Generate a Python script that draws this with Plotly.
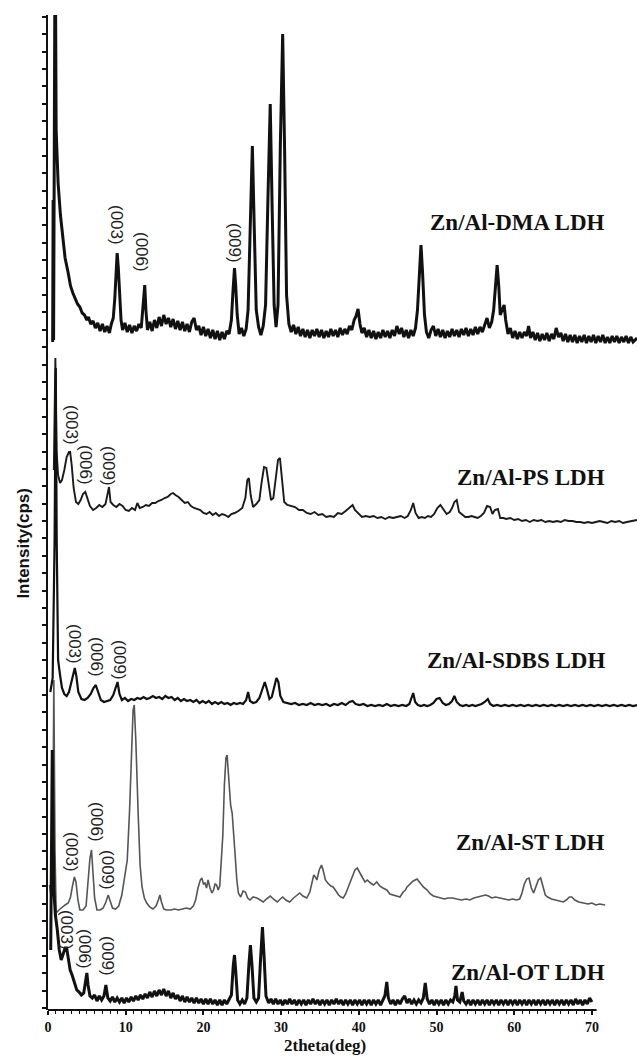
import plotly.graph_objects as go

# ---------------- data (2theta in deg, stacked intensity in a.u.) ----------------
dma_pts = [(0.60, 668), (0.66, 810), (0.72, 670), (0.80, 1100), (0.92, 1100), (1.05, 880), (1.3, 827), (1.6, 795),
           (1.9, 770), (2.2, 752), (2.6, 737), (2.9, 724), (3.2, 717), (3.5, 712), (3.8, 706), (4.1, 703), (4.4, 697),
           (4.7, 695), (5.0, 690), (5.2, 693), (5.5, 686), (5.8, 689), (6.1, 682), (6.4, 687), (6.7, 679), (7.0, 686),
           (7.3, 678), (7.6, 684), (7.9, 677), (8.15, 686), (8.4, 692), (8.6, 712), (8.75, 740), (8.9, 757), (9.05, 742),
           (9.2, 712), (9.4, 690), (9.6, 680), (9.9, 687), (10.2, 678), (10.5, 685), (10.8, 677), (11.1, 684), (11.4, 679),
           (11.7, 686), (12.0, 682), (12.2, 700), (12.35, 722), (12.45, 725), (12.6, 700), (12.8, 680), (13.1, 688),
           (13.4, 679), (13.7, 690), (14.0, 682), (14.3, 693), (14.6, 684), (14.9, 695), (15.2, 686), (15.5, 692),
           (15.8, 683), (16.1, 691), (16.4, 681), (16.7, 689), (17.0, 680), (17.3, 688), (17.6, 679), (17.9, 686),
           (18.2, 678), (18.5, 688), (18.8, 692), (19.1, 680), (19.4, 684), (19.7, 675), (20.0, 683), (20.3, 674),
           (20.6, 681), (20.9, 672), (21.2, 680), (21.5, 671), (21.8, 679), (22.1, 670), (22.4, 678), (22.7, 671),
           (23.0, 679), (23.3, 676), (23.6, 690), (23.8, 718), (24.0, 742), (24.15, 725), (24.35, 695), (24.6, 676),
           (24.9, 682), (25.2, 674), (25.5, 681), (25.75, 700), (26.0, 770), (26.3, 864), (26.55, 780), (26.8, 700),
           (27.1, 683), (27.4, 675), (27.7, 684), (28.0, 705), (28.3, 810), (28.6, 906), (28.85, 800), (29.1, 705),
           (29.35, 683), (29.6, 705), (29.9, 865), (30.2, 976), (30.45, 860), (30.7, 715), (31.0, 686), (31.3, 678),
           (31.6, 685), (31.9, 676), (32.2, 683), (32.5, 674), (32.8, 681), (33.1, 673), (33.4, 680), (33.7, 672),
           (34.0, 680), (34.3, 674), (34.6, 681), (34.9, 673), (35.2, 680), (35.5, 672), (35.8, 679), (36.1, 673),
           (36.4, 681), (36.7, 674), (37.0, 680), (37.3, 673), (37.6, 682), (37.9, 675), (38.2, 681), (38.5, 676),
           (38.8, 684), (39.1, 680), (39.4, 690), (39.65, 694), (39.9, 701), (40.15, 686), (40.4, 677), (40.7, 682),
           (41.0, 673), (41.3, 680), (41.6, 672), (41.9, 679), (42.2, 671), (42.5, 678), (42.8, 672), (43.1, 680),
           (43.4, 673), (43.7, 679), (44.0, 672), (44.3, 680), (44.6, 674), (44.9, 684), (45.2, 676), (45.5, 682),
           (45.8, 673), (46.1, 680), (46.4, 672), (46.7, 680), (47.0, 674), (47.3, 682), (47.55, 700), (47.8, 740),
           (48.0, 765), (48.2, 738), (48.45, 695), (48.7, 678), (49.0, 672), (49.3, 680), (49.6, 684), (49.9, 674),
           (50.2, 681), (50.5, 673), (50.8, 680), (51.1, 672), (51.4, 679), (51.7, 673), (52.0, 681), (52.3, 674),
           (52.6, 680), (52.9, 673), (53.2, 681), (53.5, 675), (53.8, 682), (54.1, 674), (54.4, 681), (54.7, 675),
           (55.0, 683), (55.3, 676), (55.6, 683), (55.9, 678), (56.2, 686), (56.5, 692), (56.8, 682), (57.1, 688),
           (57.35, 700), (57.6, 730), (57.8, 745), (58.0, 725), (58.2, 695), (58.45, 700), (58.7, 705), (58.9, 690),
           (59.2, 676), (59.5, 682), (59.8, 672), (60.1, 679), (60.4, 671), (60.7, 678), (61.0, 672), (61.3, 678),
           (61.6, 674), (61.85, 684), (62.1, 672), (62.4, 678), (62.7, 670), (63.0, 677), (63.3, 669), (63.6, 676),
           (63.9, 670), (64.2, 677), (64.5, 669), (64.8, 676), (65.1, 671), (65.4, 682), (65.7, 673), (66.0, 677),
           (66.3, 669), (66.6, 676), (66.9, 668), (67.2, 675), (67.5, 668), (67.8, 675), (68.1, 667), (68.4, 674),
           (68.7, 668), (69.0, 675), (69.3, 667), (69.6, 674), (69.9, 668), (70.2, 675), (70.5, 667), (70.8, 674),
           (71.1, 668), (71.4, 675), (71.7, 667), (72.0, 673), (72.3, 667), (72.6, 674), (72.9, 668), (73.2, 674),
           (73.5, 667), (73.8, 673), (74.1, 668), (74.4, 674), (74.7, 667), (75.0, 673), (75.3, 668), (75.8, 672)]

ps_pts = [(0.75, 540), (0.95, 652), (1.1, 560), (1.3, 535), (1.55, 527), (1.8, 530), (2.1, 540), (2.4, 553), (2.7, 558),
          (2.85, 558), (3.05, 545), (3.3, 522), (3.6, 508), (3.9, 506), (4.2, 510), (4.5, 516), (4.8, 518), (5.1, 512),
          (5.4, 504), (5.8, 500), (6.2, 502), (6.6, 505), (7.0, 503), (7.4, 506), (7.65, 516), (7.85, 523), (8.05, 508),
          (8.4, 505), (8.8, 503), (9.2, 506), (9.6, 504), (10.0, 500), (10.4, 499), (10.8, 502), (11.2, 500), (11.5, 507),
          (11.8, 502), (12.2, 503), (12.6, 505), (13.0, 504), (13.4, 507), (13.8, 507), (14.2, 509), (14.6, 510),
          (15.0, 512), (15.4, 513), (15.8, 516), (16.1, 517), (16.4, 515), (16.8, 513), (17.2, 510), (17.6, 507),
          (18.0, 508), (18.4, 504), (18.8, 502), (19.2, 501), (19.6, 500), (20.0, 497), (20.4, 496), (20.8, 498),
          (21.2, 495), (21.6, 497), (22.0, 494), (22.4, 496), (22.8, 495), (23.2, 493), (23.6, 496), (24.0, 497),
          (24.5, 499), (25.0, 502), (25.4, 512), (25.65, 530), (25.85, 532), (26.1, 514), (26.4, 503), (26.8, 506),
          (27.2, 510), (27.5, 528), (27.8, 543), (28.1, 542), (28.4, 525), (28.7, 510), (29.0, 512), (29.3, 530),
          (29.6, 550), (29.85, 552), (30.1, 530), (30.4, 508), (30.8, 505), (31.3, 504), (31.8, 503), (32.3, 500),
          (32.8, 500), (33.3, 497), (33.8, 496), (34.3, 498), (34.8, 495), (35.3, 496), (35.8, 493), (36.3, 494),
          (36.8, 493), (37.3, 497), (37.8, 496), (38.3, 499), (38.8, 502), (39.2, 505), (39.5, 500), (39.9, 497),
          (40.4, 493), (40.9, 494), (41.4, 493), (41.9, 494), (42.4, 492), (42.9, 493), (43.4, 491), (43.9, 493),
          (44.4, 492), (44.9, 493), (45.4, 494), (45.9, 492), (46.3, 494), (46.7, 500), (47.0, 507), (47.3, 497),
          (47.7, 492), (48.1, 493), (48.5, 492), (48.9, 494), (49.3, 493), (49.7, 496), (50.1, 502), (50.5, 505),
          (50.9, 500), (51.3, 496), (51.7, 498), (52.0, 502), (52.3, 508), (52.6, 510), (52.9, 498), (53.3, 495),
          (53.7, 493), (54.1, 493), (54.5, 494), (54.9, 493), (55.3, 492), (55.7, 494), (56.1, 497), (56.5, 504),
          (56.9, 503), (57.2, 496), (57.5, 500), (57.9, 501), (58.2, 492), (58.6, 492), (59.0, 491), (59.5, 492),
          (60.0, 490), (60.5, 491), (61.0, 489), (61.5, 490), (62.0, 488), (62.5, 490), (63.0, 489), (63.5, 490),
          (64.0, 488), (64.5, 489), (65.0, 488), (65.5, 489), (66.0, 488), (66.5, 490), (67.0, 489), (67.5, 489),
          (68.0, 488), (68.5, 488), (69.0, 487), (69.5, 488), (70.0, 487), (70.5, 488), (71.0, 489), (71.5, 488),
          (72.0, 487), (72.5, 489), (73.0, 488), (73.5, 489), (74.0, 487), (74.5, 488), (75.0, 489), (75.8, 490)]

sdbs_pts = [(0.3, 318), (0.6, 332), (0.85, 470), (1.0, 642), (1.12, 470), (1.3, 350), (1.55, 335), (1.8, 322),
            (2.1, 316), (2.4, 314), (2.7, 318), (3.0, 328), (3.25, 338), (3.45, 342), (3.65, 334), (3.9, 318),
            (4.3, 311), (4.7, 310), (5.1, 312), (5.5, 316), (5.85, 322), (6.15, 325), (6.45, 318), (6.8, 310),
            (7.2, 308), (7.6, 309), (8.0, 310), (8.4, 315), (8.7, 322), (8.95, 328), (9.2, 316), (9.5, 310),
            (9.9, 312), (10.3, 309), (10.7, 311), (11.1, 310), (11.5, 312), (11.9, 311), (12.3, 313), (12.7, 311),
            (13.1, 312), (13.5, 314), (13.9, 312), (14.3, 313), (14.7, 311), (15.1, 314), (15.5, 312), (15.9, 313),
            (16.3, 310), (16.7, 312), (17.1, 309), (17.5, 311), (17.9, 309), (18.3, 310), (18.7, 308), (19.1, 310),
            (19.5, 307), (19.9, 309), (20.3, 307), (20.7, 309), (21.1, 306), (21.5, 308), (21.9, 306), (22.3, 308),
            (22.7, 306), (23.1, 307), (23.5, 305), (23.9, 307), (24.3, 306), (24.7, 307), (25.1, 306), (25.5, 310),
            (25.75, 318), (26.0, 309), (26.4, 307), (26.8, 308), (27.2, 312), (27.6, 322), (27.9, 328), (28.2, 320),
            (28.5, 311), (28.8, 313), (29.1, 322), (29.4, 332), (29.65, 328), (29.9, 314), (30.3, 308), (30.8, 307),
            (31.3, 306), (31.8, 307), (32.3, 305), (32.8, 306), (33.3, 305), (33.8, 307), (34.3, 305), (34.8, 306),
            (35.3, 305), (35.8, 306), (36.3, 304), (36.8, 306), (37.3, 305), (37.8, 307), (38.3, 305), (38.8, 308),
            (39.2, 309), (39.6, 306), (40.1, 305), (40.6, 306), (41.1, 304), (41.6, 305), (42.1, 304), (42.6, 305),
            (43.1, 304), (43.6, 306), (44.1, 304), (44.6, 305), (45.1, 304), (45.6, 305), (46.1, 304), (46.5, 306),
            (46.8, 313), (47.0, 317), (47.25, 308), (47.6, 305), (48.0, 304), (48.4, 305), (48.8, 304), (49.2, 305),
            (49.6, 307), (50.0, 311), (50.4, 312), (50.8, 307), (51.2, 305), (51.6, 306), (52.0, 309), (52.3, 314),
            (52.6, 308), (53.0, 305), (53.4, 304), (53.8, 305), (54.2, 304), (54.6, 305), (55.0, 304), (55.4, 305),
            (55.8, 306), (56.2, 308), (56.6, 311), (56.9, 306), (57.3, 304), (57.8, 305), (58.3, 304), (58.8, 305),
            (59.3, 304), (59.8, 305), (60.3, 304), (60.8, 305), (61.3, 304), (61.8, 305), (62.3, 304), (62.8, 305),
            (63.3, 304), (63.8, 305), (64.3, 304), (64.8, 305), (65.3, 304), (65.8, 305), (66.3, 304), (66.8, 305),
            (67.3, 304), (67.8, 305), (68.3, 304), (68.8, 305), (69.3, 304), (69.8, 305), (70.3, 304), (70.8, 305),
            (71.3, 304), (71.8, 305), (72.3, 304), (72.8, 305), (73.3, 304), (73.8, 305), (74.3, 304), (74.8, 305),
            (75.3, 304), (75.8, 305)]

st_pts = [(0.2, 125), (0.4, 113), (0.6, 135), (0.75, 330), (0.9, 160), (1.05, 97), (1.4, 100), (1.8, 103), (2.2, 105),
          (2.6, 107), (2.9, 113), (3.15, 124), (3.4, 133), (3.6, 128), (3.85, 110), (4.1, 100), (4.5, 100), (4.9, 104),
          (5.15, 125), (5.4, 152), (5.6, 160), (5.8, 140), (6.0, 112), (6.3, 100), (6.7, 100), (7.1, 102), (7.45, 108),
          (7.75, 115), (8.0, 110), (8.3, 102), (8.7, 101), (9.1, 104), (9.5, 115), (9.9, 138), (10.2, 150), (10.5, 200),
          (10.75, 262), (10.95, 300), (11.1, 305), (11.3, 270), (11.6, 197), (11.85, 145), (12.1, 123), (12.4, 112),
          (12.7, 107), (13.1, 103), (13.5, 101), (13.9, 104), (14.2, 110), (14.4, 115), (14.6, 108), (14.9, 101),
          (15.3, 100), (15.8, 100), (16.3, 101), (16.8, 100), (17.3, 101), (17.8, 102), (18.3, 101), (18.7, 104),
          (19.0, 110), (19.3, 122), (19.6, 130), (19.8, 132), (20.0, 126), (20.2, 127), (20.4, 122), (20.6, 130),
          (20.85, 122), (21.1, 117), (21.3, 120), (21.5, 126), (21.7, 125), (21.9, 120), (22.1, 124), (22.3, 145),
          (22.5, 175), (22.7, 225), (22.9, 252), (23.05, 255), (23.25, 235), (23.5, 205), (23.7, 197), (23.9, 170),
          (24.1, 153), (24.3, 130), (24.5, 117), (24.8, 113), (25.1, 119), (25.4, 118), (25.7, 112), (26.0, 110),
          (26.4, 113), (26.9, 112), (27.3, 110), (27.7, 108), (28.1, 111), (28.6, 114), (29.0, 111), (29.5, 108),
          (29.9, 111), (30.2, 113), (30.6, 110), (31.1, 108), (31.6, 112), (32.0, 115), (32.4, 117), (32.8, 114),
          (33.3, 112), (33.7, 118), (34.0, 128), (34.2, 135), (34.4, 133), (34.6, 130), (34.9, 140), (35.2, 145),
          (35.4, 140), (35.7, 130), (36.0, 127), (36.4, 124), (36.7, 123), (37.0, 119), (37.4, 115), (37.7, 113),
          (38.0, 112), (38.3, 116), (38.7, 124), (39.1, 133), (39.5, 140), (39.8, 142), (40.1, 137), (40.5, 132),
          (40.8, 128), (41.1, 130), (41.5, 127), (41.9, 125), (42.3, 128), (42.7, 124), (43.1, 122), (43.6, 120),
          (44.0, 116), (44.4, 115), (44.8, 114), (45.3, 113), (45.7, 118), (46.0, 120), (46.2, 123), (46.6, 126),
          (47.0, 129), (47.5, 131), (47.9, 127), (48.3, 123), (48.8, 120), (49.2, 116), (49.6, 114), (50.0, 113),
          (50.5, 112), (51.0, 111), (51.5, 112), (52.1, 112), (52.6, 111), (53.2, 110), (53.8, 111), (54.3, 110),
          (54.8, 112), (55.3, 113), (55.8, 114), (56.3, 115), (56.7, 114), (57.1, 112), (57.6, 113), (58.2, 112),
          (58.8, 111), (59.3, 110), (59.8, 111), (60.3, 110), (60.7, 111), (61.0, 117), (61.3, 126), (61.6, 131),
          (61.9, 132), (62.2, 122), (62.5, 117), (62.8, 124), (63.1, 130), (63.4, 132), (63.7, 122), (64.0, 115),
          (64.3, 113), (64.8, 111), (65.3, 110), (65.8, 109), (66.3, 108), (66.7, 110), (67.1, 113), (67.4, 113),
          (67.8, 110), (68.3, 108), (68.9, 107), (69.5, 106), (70.0, 107), (70.5, 105), (71.0, 106), (71.7, 105)]

ot_pts = [(0.35, 60), (0.55, 260), (0.75, 120), (0.95, 95), (1.2, 80), (1.45, 60), (1.7, 50), (1.95, 55), (2.2, 62),
          (2.4, 62), (2.6, 52), (2.85, 40), (3.1, 35), (3.4, 27), (3.7, 20), (4.0, 18), (4.3, 15), (4.6, 17), (4.85, 28),
          (5.0, 37), (5.15, 25), (5.4, 14), (5.7, 12), (6.0, 15), (6.3, 9), (6.6, 14), (6.9, 10), (7.2, 14), (7.45, 25),
          (7.7, 12), (8.0, 9), (8.3, 13), (8.6, 8), (8.9, 12), (9.2, 8), (9.5, 12), (9.8, 7), (10.1, 12), (10.4, 8),
          (10.7, 13), (11.0, 9), (11.3, 14), (11.6, 10), (11.9, 15), (12.2, 11), (12.5, 16), (12.8, 12), (13.1, 18),
          (13.4, 13), (13.7, 19), (14.0, 14), (14.3, 20), (14.6, 15), (14.9, 21), (15.2, 14), (15.5, 19), (15.8, 12),
          (16.1, 17), (16.4, 11), (16.7, 15), (17.0, 9), (17.3, 14), (17.6, 8), (17.9, 13), (18.2, 8), (18.5, 12),
          (18.8, 7), (19.1, 12), (19.4, 7), (19.7, 11), (20.0, 6), (20.3, 11), (20.6, 6), (20.9, 11), (21.2, 6),
          (21.5, 10), (21.8, 5), (22.1, 10), (22.4, 5), (22.7, 10), (23.0, 6), (23.3, 10), (23.6, 15), (23.85, 45),
          (24.0, 55), (24.15, 40), (24.4, 10), (24.7, 6), (25.0, 10), (25.3, 6), (25.6, 12), (25.85, 45), (26.05, 65),
          (26.25, 45), (26.5, 12), (26.8, 8), (27.1, 12), (27.35, 50), (27.6, 83), (27.8, 55), (28.05, 14), (28.4, 7),
          (28.7, 11), (29.0, 6), (29.3, 11), (29.6, 6), (29.9, 10), (30.2, 5), (30.5, 10), (30.8, 6), (31.1, 11),
          (31.4, 6), (31.7, 10), (32.0, 5), (32.3, 10), (32.6, 6), (32.9, 10), (33.2, 5), (33.5, 10), (33.8, 6),
          (34.1, 11), (34.4, 6), (34.7, 10), (35.0, 5), (35.3, 10), (35.6, 6), (35.9, 10), (36.2, 5), (36.5, 10),
          (36.8, 6), (37.1, 11), (37.4, 6), (37.7, 10), (38.0, 5), (38.3, 10), (38.6, 6), (38.9, 10), (39.2, 5),
          (39.5, 10), (39.8, 6), (40.1, 10), (40.4, 5), (40.7, 10), (41.0, 6), (41.3, 10), (41.6, 5), (41.9, 10),
          (42.2, 6), (42.5, 10), (42.8, 5), (43.1, 10), (43.35, 14), (43.6, 28), (43.8, 12), (44.1, 6), (44.4, 10),
          (44.7, 5), (45.0, 10), (45.3, 6), (45.6, 11), (45.9, 14), (46.2, 7), (46.5, 11), (46.8, 6), (47.1, 10),
          (47.4, 6), (47.7, 10), (48.0, 7), (48.3, 12), (48.55, 27), (48.8, 11), (49.1, 6), (49.4, 10), (49.7, 5),
          (50.0, 10), (50.3, 6), (50.6, 10), (50.9, 5), (51.2, 10), (51.5, 6), (51.8, 10), (52.1, 8), (52.35, 14),
          (52.5, 24), (52.7, 10), (53.0, 8), (53.3, 18), (53.5, 9), (53.8, 6), (54.1, 10), (54.4, 5), (54.7, 10),
          (55.0, 6), (55.3, 10), (55.6, 5), (55.9, 10), (56.2, 6), (56.5, 10), (56.8, 5), (57.1, 10), (57.4, 6),
          (57.7, 10), (58.0, 5), (58.3, 10), (58.6, 6), (58.9, 10), (59.2, 5), (59.5, 10), (59.8, 6), (60.1, 10),
          (60.4, 5), (60.7, 10), (61.0, 6), (61.3, 10), (61.6, 5), (61.9, 10), (62.2, 6), (62.5, 10), (62.8, 5),
          (63.1, 10), (63.4, 6), (63.7, 10), (64.0, 5), (64.3, 10), (64.6, 6), (64.9, 10), (65.2, 5), (65.5, 10),
          (65.8, 6), (66.1, 10), (66.4, 5), (66.7, 10), (67.0, 6), (67.3, 10), (67.6, 5), (67.9, 11), (68.2, 6),
          (68.5, 10), (68.8, 5), (69.1, 10), (69.4, 6), (69.7, 12), (70.0, 8)]

sample_names = ["Zn/Al-DMA LDH", "Zn/Al-PS LDH", "Zn/Al-SDBS LDH", "Zn/Al-ST LDH", "Zn/Al-OT LDH"]
sample_label_y = [788, 533, 350, 168, 38]
peak_names = ["(003)", "(006)", "(009)"]
peak_label_x = [[8.88, 12.1, 24.07], [3.09, 4.89, 7.85], [3.47, 6.31, 9.27], [3.09, 6.31, 7.72], [2.45, 4.76, 7.72]]
peak_label_y = [[785, 758, 767], [585, 545, 544], [366, 353, 350], [158, 188, 140], [80, 61, 54]]
x_ticks = [0, 10, 20, 30, 40, 50, 60, 70]

series = [dma_pts, ps_pts, sdbs_pts, st_pts, ot_pts]
colors = ["#111111", "#1a1a1a", "#111111", "#555555", "#111111"]
widths = [3.0, 1.9, 2.2, 1.6, 3.0]

fig = go.Figure()
for name, pts, c, w in zip(sample_names, series, colors, widths):
    fig.add_trace(go.Scatter(x=[p[0] for p in pts], y=[p[1] for p in pts], mode="lines", name=name,
                             line=dict(color=c, width=w), showlegend=False, hoverinfo="skip"))

serif = "Liberation Serif"
for name, ly in zip(sample_names, sample_label_y):
    fig.add_annotation(x=71.9, y=ly, xref="x", yref="y", text=name, showarrow=False, xanchor="right",
                       yanchor="middle", font=dict(family=serif, size=23, color="#111111", weight="bold"))

for xs, ys in zip(peak_label_x, peak_label_y):
    for t, px, py in zip(peak_names, xs, ys):
        fig.add_annotation(x=px, y=py, xref="x", yref="y", text=t, showarrow=False, textangle=90,
                           xanchor="center", yanchor="middle",
                           font=dict(family="Liberation Sans", size=17, color="#222222"))

# axis titles
fig.add_annotation(x=0.47, y=-0.0472, xref="paper", yref="paper", text="2theta(deg)", showarrow=False,
                   xanchor="center", yanchor="bottom",
                   font=dict(family=serif, size=17, color="#111111", weight="bold"))
fig.add_annotation(x=-0.042, y=0.469, xref="paper", yref="paper", text="Intensity(cps)", showarrow=False,
                   textangle=-90, xanchor="center", yanchor="middle",
                   font=dict(family="Liberation Sans", size=17, color="#111111", weight="bold"))

# x axis line only up to 70
fig.add_shape(type="line", xref="x", yref="paper", x0=0, x1=70.6, y0=0, y1=0,
              line=dict(color="#111111", width=2))

fig.update_layout(
    width=637, height=1057,
    margin=dict(l=48, r=0, t=15, b=47),
    paper_bgcolor="white", plot_bgcolor="white",
    xaxis=dict(range=[0, 75.8], showline=False, showgrid=False, zeroline=False,
               tickmode="array", tickvals=[0, 5, 10, 15, 20, 25, 30, 35, 40, 45, 50, 55, 60, 65, 70],
               ticktext=["0", "", "10", "", "20", "", "30", "", "40", "", "50", "", "60", "", "70"],
               ticks="outside", ticklen=4, tickwidth=1.5, tickcolor="#111111",
               tickfont=dict(family=serif, size=14, color="#111111", weight="bold"),
               minor=dict(tickmode="array", tickvals=list(range(0, 71)), ticks="outside", ticklen=3,
                          tickwidth=1.2, tickcolor="#111111")),
    yaxis=dict(range=[0, 995], showline=True, linecolor="#111111", linewidth=2, showgrid=False, zeroline=False,
               tick0=2, dtick=17.39, ticks="outside", ticklen=4, tickwidth=1.5, tickcolor="#111111",
               showticklabels=False),
)

fig.write_html("out.html", config={"displayModeBar": False},
               post_script="document.body.style.margin='0';document.body.style.padding='0';")
